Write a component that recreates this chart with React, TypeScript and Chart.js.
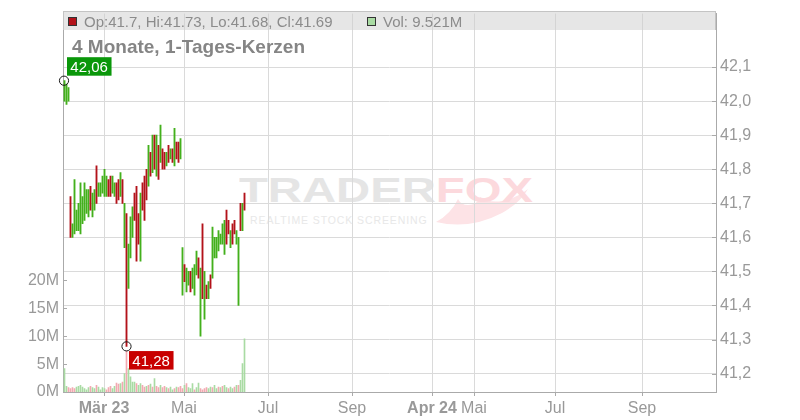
import React, { useEffect, useRef } from "react";
import { Chart, registerables } from "chart.js";

Chart.register(...registerables);

const FONT = "'Liberation Sans', Arial, Helvetica, sans-serif";

// Daily candles, one per trading day (array position = trading-day index)
const highs = [
  42.06, 42.05, 42.04, 41.72, 41.64, 41.77, 41.68, 41.70, 41.76, 41.72,
  41.76, 41.74, 41.74, 41.75, 41.73, 41.74, 41.81, 41.76, 41.76, 41.78,
  41.80, 41.78, 41.77, 41.78, 41.78, 41.76, 41.76, 41.77, 41.79, 41.77,
  41.70, 41.67, 41.58, 41.66, 41.69, 41.73, 41.75, 41.67, 41.73, 41.76,
  41.78, 41.80, 41.87, 41.85, 41.90, 41.90, 41.90, 41.87, 41.93, 41.86,
  41.85, 41.85, 41.87, 41.86, 41.86, 41.92, 41.88, 41.88, 41.89, 41.57,
  41.52, 41.51, 41.50, 41.50, 41.51, 41.52, 41.56, 41.54, 41.51, 41.64,
  41.50, 41.46, 41.47, 41.49, 41.63, 41.60, 41.60, 41.62, 41.61, 41.64,
  41.65, 41.68, 41.65, 41.62, 41.64, 41.65, 41.62, 41.60, 41.70, 41.70,
  41.73,
];
const lows = [
  42.00, 41.99, 42.00, 41.60, 41.60, 41.61, 41.62, 41.62, 41.61, 41.64,
  41.65, 41.67, 41.66, 41.68, 41.66, 41.68, 41.70, 41.72, 41.72, 41.73,
  41.72, 41.72, 41.72, 41.72, 41.73, 41.72, 41.70, 41.71, 41.72, 41.70,
  41.57, 41.28, 41.45, 41.54, 41.60, 41.65, 41.53, 41.58, 41.53, 41.68,
  41.65, 41.71, 41.75, 41.78, 41.79, 41.80, 41.78, 41.77, 41.82, 41.80,
  41.80, 41.81, 41.82, 41.83, 41.82, 41.81, 41.83, 41.82, 41.83, 41.43,
  41.47, 41.44, 41.46, 41.44, 41.45, 41.43, 41.49, 41.48, 41.31, 41.42,
  41.36, 41.42, 41.42, 41.45, 41.48, 41.54, 41.54, 41.56, 41.58, 41.58,
  41.55, 41.58, 41.61, 41.57, 41.58, 41.61, 41.58, 41.40, 41.62, 41.62,
  41.68,
];
// G = rising candle, R = falling candle
const candleDir = [
  "G","G","G","R","G","G","G","G","G","G",
  "G","G","G","R","G","G","R","G","G","G",
  "G","G","R","R","G","G","R","R","G","R",
  "G","R","G","G","G","R","R","R","G","R",
  "R","R","G","R","G","R","G","R","G","R",
  "R","G","R","G","R","G","R","R","G","G",
  "R","G","G","R","G","G","G","R","G","R",
  "G","R","G","R","G","G","G","G","G","G",
  "G","R","R","G","R","R","G","G","R","G",
  "R",
];
// Volume in millions
const volumes = [
  4.2, 1.0, 0.8, 0.6, 0.8, 0.6, 0.9, 1.0, 1.2, 0.9,
  0.6, 0.4, 0.8, 1.0, 0.8, 0.6, 1.2, 0.9, 0.4, 0.8,
  0.6, 0.4, 0.8, 1.0, 0.6, 1.0, 1.6, 1.4, 1.5, 1.8,
  3.3, 7.4, 4.2, 2.7, 1.8, 1.8, 1.5, 1.2, 1.5, 1.2,
  0.9, 1.0, 1.2, 1.4, 0.9, 2.4, 1.0, 0.8, 1.2, 0.8,
  1.0, 0.8, 0.6, 0.9, 0.4, 0.6, 0.9, 0.8, 1.0, 0.6,
  1.2, 1.5, 0.8, 0.6, 1.5, 0.4, 0.8, 1.6, 0.6, 0.4,
  0.6, 0.8, 0.6, 0.9, 0.8, 1.2, 0.6, 0.9, 0.8, 1.0,
  1.2, 0.8, 0.6, 0.9, 0.6, 0.9, 1.2, 1.2, 2.1, 5.1,
  9.521,
];
const volumeDir = [
  "G","G","R","R","R","R","G","G","G","G",
  "G","G","G","R","G","G","R","G","G","G",
  "G","R","R","R","G","G","R","R","G","R",
  "G","R","G","G","G","G","R","G","G","R",
  "R","G","R","G","R","G","R","R","G","R",
  "R","G","R","G","G","R","G","R","R","R",
  "G","R","G","G","G","R","G","G","R","R",
  "R","R","G","G","R","G","G","R","G","R",
  "G","G","R","G","G","R","G","R","G","G",
  "G",
];

const priceTicks = [41.2, 41.3, 41.4, 41.5, 41.6, 41.7, 41.8, 41.9, 42.0, 42.1];
const volumeTicks = [0, 5, 10, 15, 20];
const xTickPositions = [20.5, 60.5, 102.5, 144.5, 184.5, 205.5, 246, 289.5];
const xTickLabels = ["Mär 23", "Mai", "Jul", "Sep", "Apr 24", "Mai", "Jul", "Sep"];

const lastOHLC = { op: "41.7", hi: "41.73", lo: "41.68", cl: "41.69" };
const lastVolume = "9.521M";
const title = "4 Monate, 1-Tages-Kerzen";

const GREEN = "#43b01c";
const RED = "#b3121a";
const VOL_GREEN = "#a9dba3";
const VOL_RED = "#f2a9b1";
const GRID = "#dadada";
const AXIS = "#aaaaaa";
const TXT = "#999999";

const fmt = (v: number, d: number) => v.toFixed(d).replace(".", ",");

function drawMark(ctx: any, cx: number, cy: number, text: string, color: string, above: boolean) {
  ctx.font = `15px ${FONT}`;
  const w = ctx.measureText(text).width + 7;
  const h = 18.5;
  const bx = above ? cx + 3 : cx + 2.5;
  const by = above ? cy - 5 - h : cy + 4.7;
  ctx.fillStyle = color;
  ctx.fillRect(bx, by, w, h);
  ctx.fillStyle = "#ffffff";
  ctx.textBaseline = "alphabetic";
  ctx.textAlign = "left";
  ctx.fillText(text, bx + 3.3, by + 14.6);
  ctx.beginPath();
  ctx.arc(cx, cy, 4.6, 0, Math.PI * 2);
  ctx.strokeStyle = "#1a1a1a";
  ctx.lineWidth = 1;
  ctx.stroke();
}

const overlayPlugin = {
  id: "overlayMarks",
  afterDatasetsDraw(chart: any) {
    const { ctx, scales } = chart;
    const xs = scales.x;
    const ps = scales.price;
    const vs = scales.vol;
    ctx.save();
    ctx.strokeStyle = AXIS;
    ctx.lineWidth = 1;
    for (const t of priceTicks) {
      const y = Math.round(ps.getPixelForValue(t)) + 0.5;
      ctx.beginPath();
      ctx.moveTo(ps.left - 4, y);
      ctx.lineTo(ps.left, y);
      ctx.stroke();
    }
    for (const t of volumeTicks) {
      if (t === 0) continue;
      const y = Math.round(vs.getPixelForValue(t)) + 0.5;
      ctx.beginPath();
      ctx.moveTo(vs.right, y);
      ctx.lineTo(vs.right + 4, y);
      ctx.stroke();
    }
    const hiVal = Math.max(...highs);
    const iHi = highs.indexOf(hiVal);
    const loVal = Math.min(...lows);
    const iLo = lows.indexOf(loVal);
    drawMark(ctx, xs.getPixelForValue(iHi + 0.5), ps.getPixelForValue(hiVal), fmt(hiVal, 2), "#0a970a", true);
    drawMark(ctx, xs.getPixelForValue(iLo + 0.75), ps.getPixelForValue(loVal), fmt(loVal, 2), "#c80000", false);
    ctx.restore();
  },
};

export default function App() {
  const ref = useRef<HTMLCanvasElement>(null);

  useEffect(() => {
    const canvas = ref.current;
    if (!canvas) return;
    const pos = highs.map((_, i) => i + 0.75);
    const chart = new Chart(canvas, {
      type: "bar",
      data: {
        datasets: [
          {
            label: "Kerzen",
            data: pos.map((x, i) => ({ x, y: [lows[i], highs[i]] })) as any,
            backgroundColor: candleDir.map((d) => (d === "G" ? GREEN : RED)),
            borderWidth: 0,
            barThickness: 1.2,
            grouped: false,
            xAxisID: "x",
            yAxisID: "price",
            order: 1,
          } as any,
          {
            label: "Volumen",
            data: pos.map((x, i) => ({ x, y: volumes[i] })) as any,
            backgroundColor: volumeDir.map((d) => (d === "G" ? VOL_GREEN : VOL_RED)),
            borderWidth: 0,
            barThickness: 1,
            grouped: false,
            xAxisID: "x",
            yAxisID: "vol",
            order: 2,
          } as any,
        ],
      },
      options: {
        responsive: false,
        animation: false,
        events: [],
        layout: { padding: { top: 12, left: 0, right: 0, bottom: 0 } },
        plugins: { legend: { display: false }, tooltip: { enabled: false } },
        scales: {
          x: {
            type: "linear",
            position: "bottom",
            min: 0,
            max: 326.5,
            offset: false,
            afterBuildTicks: (s: any) => {
              s.ticks = xTickPositions.map((v) => ({ value: v }));
            },
            afterFit: (s: any) => {
              s.height = 28;
            },
            grid: { color: GRID, offset: false, drawTicks: true, tickLength: 4, tickColor: AXIS },
            border: { display: true, color: AXIS },
            ticks: {
              autoSkip: false,
              maxRotation: 0,
              minRotation: 0,
              padding: 3,
              color: TXT,
              font: (c: any) => {
                const i = xTickPositions.indexOf(c.tick ? c.tick.value : -1);
                const lbl = i >= 0 ? xTickLabels[i] : "";
                return { family: FONT, size: 16, weight: lbl.includes(" ") ? "bold" : "normal" };
              },
              callback: (v: any) => {
                const i = xTickPositions.indexOf(Number(v));
                return i >= 0 ? xTickLabels[i] : "";
              },
            },
          } as any,
          price: {
            type: "linear",
            position: "right",
            min: 41.146,
            max: 42.257,
            afterBuildTicks: (s: any) => {
              s.ticks = priceTicks.map((v) => ({ value: v }));
            },
            afterFit: (s: any) => {
              s.width = 84;
            },
            grid: { color: GRID, drawTicks: false },
            border: { display: true, color: AXIS },
            ticks: {
              padding: 4,
              color: TXT,
              font: { family: FONT, size: 16 },
              callback: (v: any) => fmt(Number(v), 1),
            },
          } as any,
          vol: {
            type: "linear",
            position: "left",
            min: 0,
            max: 67.86,
            afterBuildTicks: (s: any) => {
              s.ticks = volumeTicks.map((v) => ({ value: v }));
            },
            afterFit: (s: any) => {
              s.width = 63;
            },
            grid: { display: false, drawTicks: false, drawOnChartArea: false },
            border: { display: true, color: AXIS },
            ticks: {
              padding: 4,
              color: TXT,
              font: { family: FONT, size: 16 },
              callback: (v: any) => `${v}M`,
            },
          } as any,
        },
      },
      plugins: [overlayPlugin],
    } as any);
    return () => chart.destroy();
  }, []);

  const abs = (o: any) => ({ position: "absolute", ...o } as React.CSSProperties);

  return (
    <div style={abs({ left: 0, top: 0, width: 800, height: 420, background: "#ffffff", fontFamily: FONT, overflow: "hidden" })}>
      {/* watermark */}
      <div style={abs({ left: 0, top: 0, width: 800, height: 420, zIndex: 0 })}>
        <svg width="800" height="420" style={abs({ left: 0, top: 0 })}>
          <path
            d="M 436 222 Q 470 230 502 213 Q 520 203 528 189 Q 517 198 502 201 Q 489 203 480 197 Q 477 205 468 205 Q 461 205 458 199 Q 451 214 436 222 Z"
            fill="#fde3e6"
          />
        </svg>
        <div
          style={abs({
            left: 239,
            top: 170,
            fontSize: 35,
            lineHeight: "40px",
            fontWeight: "bold",
            whiteSpace: "nowrap",
            transform: "scaleX(1.35)",
            transformOrigin: "left top",
          })}
        >
          <span style={{ color: "#e5e5e5" }}>TRADER</span>
          <span style={{ color: "#fcd9dd" }}>FOX</span>
        </div>
        <div
          style={abs({
            left: 250,
            top: 213.7,
            fontSize: 10.5,
            lineHeight: "12px",
            letterSpacing: "0.9px",
            color: "#e8e8e8",
            whiteSpace: "nowrap",
          })}
        >
          REALTIME STOCK SCREENING
        </div>
      </div>

      <canvas ref={ref} width={800} height={420} style={abs({ left: 0, top: 0, zIndex: 1 })} />

      {/* header bar */}
      <div
        style={abs({
          left: 63,
          top: 11,
          width: 653,
          height: 19,
          boxSizing: "border-box",
          background: "rgba(205,205,205,0.5)",
          borderTop: "1px solid #c4c4c4",
          borderLeft: "1px solid #c4c4c4",
          borderRight: "1px solid #c4c4c4",
          zIndex: 2,
        })}
      />
      <div style={abs({ left: 68, top: 16.5, width: 7, height: 7, background: RED, border: "1px solid #333", zIndex: 3 })} />
      <div style={abs({ left: 84, top: 13, fontSize: 15, lineHeight: "17px", color: "#8c8c8c", whiteSpace: "nowrap", zIndex: 3 })}>
        {`Op:${lastOHLC.op}, Hi:${lastOHLC.hi}, Lo:${lastOHLC.lo}, Cl:${lastOHLC.cl}`}
      </div>
      <div style={abs({ left: 367, top: 16.5, width: 7, height: 7, background: VOL_GREEN, border: "1px solid #333", zIndex: 3 })} />
      <div style={abs({ left: 383, top: 13, fontSize: 15, lineHeight: "17px", color: "#8c8c8c", whiteSpace: "nowrap", zIndex: 3 })}>
        {`Vol: ${lastVolume}`}
      </div>
      {/* title */}
      <div style={abs({ left: 72, top: 36.4, fontSize: 19, lineHeight: "22px", fontWeight: "bold", color: "#858585", whiteSpace: "nowrap", zIndex: 3 })}>
        {title}
      </div>
    </div>
  );
}
